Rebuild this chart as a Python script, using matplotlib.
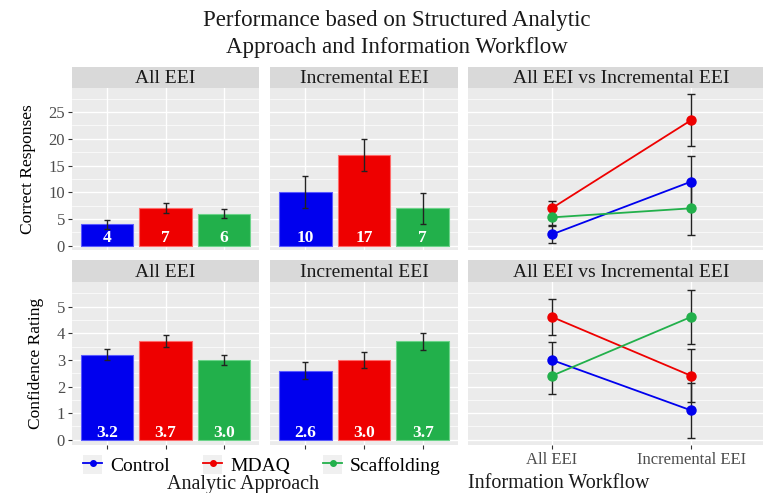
import numpy as np
import matplotlib.pyplot as plt
from matplotlib.lines import Line2D
from matplotlib.patches import Patch

groups = ['Control', 'MDAQ', 'Scaffolding']
colors = ['#0000EE', '#EE0000', '#22B04B']
edge_colors = ['#5A5AFF', '#FF6A6A', '#6CD48A']

# bar panels (mean, half error bar)
correct_all = [4, 7, 6]
correct_all_err = [0.9, 0.9, 0.9]
correct_inc = [10, 17, 7]
correct_inc_err = [3.0, 3.0, 2.9]
conf_all = [3.2, 3.7, 3.0]
conf_all_err = [0.2, 0.22, 0.2]
conf_inc = [2.6, 3.0, 3.7]
conf_inc_err = [0.32, 0.3, 0.33]

# line panels: All EEI vs Incremental EEI
workflow = ['All EEI', 'Incremental EEI']
correct_control = [2.1, 12.0]
correct_control_err = [1.6, 4.8]
correct_mdaq = [7.0, 23.5]
correct_mdaq_err = [1.4, 4.9]
correct_scaff = [5.3, 7.0]
correct_scaff_err = [1.5, 4.95]
conf_control = [3.0, 1.1]
conf_control_err = [0.69, 1.02]
conf_mdaq = [4.62, 2.4]
conf_mdaq_err = [0.67, 1.0]
conf_scaff = [2.4, 4.62]
conf_scaff_err = [0.69, 1.02]

SERIF = 'Liberation Serif'
plt.rcParams['font.family'] = SERIF
PANEL_BG = '#EBEBEB'
STRIP_BG = '#D9D9D9'

W, H = 763, 493
fig = plt.figure(figsize=(W / 100, H / 100), dpi=100)


def px_axes(x0, y0, x1, y1):
    return fig.add_axes([x0 / W, 1 - y1 / H, (x1 - x0) / W, (y1 - y0) / H])


def style_panel(ax, ylim, major, minor, ncat):
    ax.set_facecolor(PANEL_BG)
    for s in ax.spines.values():
        s.set_visible(False)
    ax.set_ylim(*ylim)
    ax.set_xlim(0.4, ncat + 0.6)
    ax.set_yticks(major)
    ax.set_yticks(minor, minor=True)
    ax.set_xticks(range(1, ncat + 1))
    ax.grid(True, which='major', color='white', lw=1.0)
    ax.grid(True, which='minor', axis='y', color='white', lw=0.5)
    ax.set_axisbelow(True)
    ax.tick_params(which='minor', length=0)
    ax.tick_params(which='major', length=3, color='#333333', labelsize=12,
                   labelcolor='#4D4D4D', pad=2)


def strip(x0, y0, x1, y1, label):
    s = px_axes(x0, y0, x1, y1)
    s.set_facecolor(STRIP_BG)
    s.set_xticks([])
    s.set_yticks([])
    for sp in s.spines.values():
        sp.set_visible(False)
    s.text(0.5, 0.45, label, ha='center', va='center', fontsize=14,
           color='#1A1A1A', transform=s.transAxes)


def bar_panel(ax, vals, errs, label_y, fmt, show_y, show_x):
    x = np.arange(1, len(vals) + 1)
    ax.bar(x, vals, width=0.9, color=colors, edgecolor=edge_colors, lw=0.8, zorder=2)
    ax.errorbar(x, vals, yerr=errs, fmt='none', ecolor='#222222', elinewidth=1,
                capsize=2.5, capthick=1, zorder=3)
    for xi, v in zip(x, vals):
        ax.text(xi, label_y, fmt.format(v), ha='center', va='center', color='white',
                fontsize=12.5, fontweight='bold', zorder=4)
    if not show_y:
        ax.tick_params(axis='y', length=0, labelleft=False)
    ax.tick_params(axis='x', labelbottom=False)
    if not show_x:
        ax.tick_params(axis='x', length=0)


def line_panel(ax, series, show_x):
    x = np.arange(1, len(workflow) + 1)
    for (vals, errs), c in zip(series, colors):
        ax.errorbar(x, vals, yerr=errs, fmt='none', ecolor='#222222', elinewidth=1,
                    capsize=3, capthick=1, zorder=2)
        ax.plot(x, vals, color=c, lw=1.3, marker='o', ms=6.5, zorder=3)
    ax.tick_params(axis='y', length=0, labelleft=False)
    if show_x:
        ax.set_xticklabels(workflow)
    else:
        ax.tick_params(axis='x', length=0, labelbottom=False)


top_ylim = (-0.8, 29.5)
top_major = [0, 5, 10, 15, 20, 25]
top_minor = [2.5, 7.5, 12.5, 17.5, 22.5, 27.5]
bot_ylim = (-0.2, 5.93)
bot_major = [0, 1, 2, 3, 4, 5]
bot_minor = [0.5, 1.5, 2.5, 3.5, 4.5, 5.5]

cols = [(72, 259), (270, 458), (468, 775)]
top_rows = (67, 88, 250)
bot_rows = (260, 282, 445)

# top row
ax = px_axes(cols[0][0], top_rows[1], cols[0][1], top_rows[2])
style_panel(ax, top_ylim, top_major, top_minor, 3)
bar_panel(ax, correct_all, correct_all_err, 1.5, '{:d}', True, False)
ax.set_ylabel('Correct Responses', fontsize=12.5, labelpad=9)
strip(cols[0][0], top_rows[0], cols[0][1], top_rows[1], 'All EEI')

ax = px_axes(cols[1][0], top_rows[1], cols[1][1], top_rows[2])
style_panel(ax, top_ylim, top_major, top_minor, 3)
bar_panel(ax, correct_inc, correct_inc_err, 1.5, '{:d}', False, False)
strip(cols[1][0], top_rows[0], cols[1][1], top_rows[1], 'Incremental EEI')

ax = px_axes(cols[2][0], top_rows[1], cols[2][1], top_rows[2])
style_panel(ax, top_ylim, top_major, top_minor, 2)
line_panel(ax, [(correct_control, correct_control_err),
                (correct_mdaq, correct_mdaq_err),
                (correct_scaff, correct_scaff_err)], False)
strip(cols[2][0], top_rows[0], cols[2][1], top_rows[1], 'All EEI vs Incremental EEI')

# bottom row
ax = px_axes(cols[0][0], bot_rows[1], cols[0][1], bot_rows[2])
style_panel(ax, bot_ylim, bot_major, bot_minor, 3)
bar_panel(ax, conf_all, conf_all_err, 0.25, '{:.1f}', True, True)
ax.set_ylabel('Confidence Rating', fontsize=12.5, labelpad=9)
strip(cols[0][0], bot_rows[0], cols[0][1], bot_rows[1], 'All EEI')

ax = px_axes(cols[1][0], bot_rows[1], cols[1][1], bot_rows[2])
style_panel(ax, bot_ylim, bot_major, bot_minor, 3)
bar_panel(ax, conf_inc, conf_inc_err, 0.25, '{:.1f}', False, True)
strip(cols[1][0], bot_rows[0], cols[1][1], bot_rows[1], 'Incremental EEI')

ax = px_axes(cols[2][0], bot_rows[1], cols[2][1], bot_rows[2])
style_panel(ax, bot_ylim, bot_major, bot_minor, 2)
line_panel(ax, [(conf_control, conf_control_err),
                (conf_mdaq, conf_mdaq_err),
                (conf_scaff, conf_scaff_err)], True)
strip(cols[2][0], bot_rows[0], cols[2][1], bot_rows[1], 'All EEI vs Incremental EEI')

# legend
handles = [(Patch(facecolor='#F0F0F0', edgecolor='none'),
            Line2D([], [], color=c, lw=1.3, marker='o', ms=4)) for c in colors]
fig.legend(handles, groups, loc='center', bbox_to_anchor=(262 / W, 1 - 465 / H),
           ncol=3, frameon=False, fontsize=14, handlelength=1.0, handleheight=1.1,
           handletextpad=0.4, columnspacing=1.7)

fig.text(243 / W, 1 - 485 / H, 'Analytic Approach', ha='center', va='center',
         fontsize=14.5, color='#1A1A1A')
fig.text(468 / W, 1 - 484 / H, 'Information Workflow', ha='left', va='center',
         fontsize=14.5, color='#1A1A1A')

fig.text(397 / W, 1 - 34 / H,
         'Performance based on Structured Analytic\nApproach and Information Workflow',
         ha='center', va='center', fontsize=16.5, linespacing=1.4, color='#1A1A1A')

fig.savefig('out.png', dpi=100)
